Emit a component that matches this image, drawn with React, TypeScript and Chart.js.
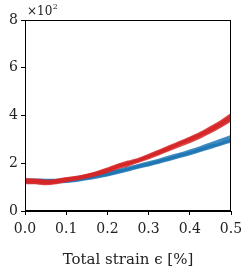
import React, { useEffect, useRef } from "react";
import { Chart, registerables } from "chart.js";

Chart.register(...registerables);

const strain = [0, 0.025, 0.05, 0.075, 0.1, 0.125, 0.15, 0.175, 0.2, 0.225, 0.25, 0.275, 0.3, 0.325, 0.35, 0.375, 0.4, 0.425, 0.45, 0.475, 0.5];

const red1 = [133, 131, 126, 129, 137, 142, 151, 162, 177, 193, 206, 217, 234, 252, 270, 288, 306, 326, 350, 374, 404];
const red2 = [118, 117, 113, 117, 126, 133, 141, 152, 165, 180, 192, 207, 222, 239, 256, 273, 290, 309, 331, 354, 380];
const red3 = [127, 126, 120, 123, 131, 139, 146, 159, 172, 185, 199, 213, 227, 247, 264, 281, 300, 319, 341, 366, 393];
const red4 = [123, 121, 117, 121, 129, 136, 148, 156, 168, 187, 201, 210, 229, 243, 260, 282, 296, 316, 337, 360, 386];
const red5 = [129, 128, 123, 127, 134, 140, 149, 158, 173, 190, 197, 214, 231, 248, 265, 283, 303, 321, 344, 368, 398];

const blue1 = [130, 131, 130, 130, 131, 136, 143, 151, 160, 171, 181, 192, 203, 214, 227, 239, 252, 266, 282, 297, 313];
const blue2 = [120, 121, 122, 122, 123, 127, 134, 141, 150, 160, 171, 182, 192, 203, 215, 227, 239, 252, 265, 279, 292];
const blue3 = [126, 127, 128, 126, 128, 133, 138, 147, 156, 167, 175, 189, 197, 210, 220, 234, 244, 259, 273, 287, 303];
const blue4 = [123, 124, 124, 125, 125, 129, 137, 145, 153, 163, 176, 185, 196, 206, 219, 230, 243, 256, 270, 283, 297];

const redSeries = [red1, red2, red3, red4, red5];
const blueSeries = [blue1, blue2, blue3, blue4];

const xTicks = [0, 0.1, 0.2, 0.3, 0.4, 0.5];
const yTicks = [0, 200, 400, 600, 800];
const xTitle = "Total strain \u03f5 [%]";

const RED = "rgba(214,39,40,0.85)";
const BLUE = "rgba(31,119,180,0.85)";
const FONT = "'DejaVu Serif', serif";

const framePlugin = {
  id: "frame",
  afterDraw(chart: any) {
    const { ctx, chartArea } = chart;
    ctx.save();
    ctx.strokeStyle = "#000";
    ctx.lineWidth = 1;
    ctx.strokeRect(chartArea.left + 0.5, chartArea.top + 0.5, chartArea.right - chartArea.left - 1, chartArea.bottom - chartArea.top - 1);
    ctx.fillStyle = "#222";
    ctx.textBaseline = "alphabetic";
    ctx.font = `12px ${FONT}`;
    const x0 = chartArea.left + 2;
    const y0 = chartArea.top - 5;
    const s = "\u00d710";
    ctx.fillText(s, x0, y0);
    const w = ctx.measureText(s).width;
    ctx.font = `8px ${FONT}`;
    ctx.fillText("2", x0 + w + 0.5, y0 - 6);
    ctx.restore();
  },
};

export default function App() {
  const ref = useRef<HTMLCanvasElement | null>(null);
  useEffect(() => {
    if (!ref.current) return;
    const datasets: any[] = [];
    redSeries.forEach((s) =>
      datasets.push({
        data: strain.map((x, i) => ({ x, y: s[i] })),
        borderColor: RED,
        borderWidth: 2.6,
        pointRadius: 0,
        tension: 0.1,
      })
    );
    blueSeries.forEach((s) =>
      datasets.push({
        data: strain.map((x, i) => ({ x, y: s[i] })),
        borderColor: BLUE,
        borderWidth: 2.6,
        pointRadius: 0,
        tension: 0.1,
      })
    );
    const chart = new Chart(ref.current, {
      type: "line",
      data: { datasets },
      plugins: [framePlugin],
      options: {
        animation: false,
        responsive: false,
        devicePixelRatio: 1,
        layout: { padding: { top: 20, right: 11, left: 0, bottom: 0 } },
        plugins: { legend: { display: false }, tooltip: { enabled: false } },
        scales: {
          x: {
            type: "linear",
            min: 0,
            max: 0.5,
            afterBuildTicks: (scale: any) => {
              scale.ticks = xTicks.map((v) => ({ value: v }));
            },
            afterFit: (scale: any) => {
              scale.height = 62;
              scale.paddingLeft = 0;
              scale.paddingRight = 0;
            },
            ticks: {
              color: "#222",
              font: { family: FONT, size: 14 },
              padding: 6,
              maxRotation: 0,
              autoSkip: false,
              callback: (v: any) => Number(v).toFixed(1),
            },
            grid: { drawOnChartArea: false, drawTicks: true, tickLength: 4, color: "#000" },
            border: { display: true, color: "#000", width: 1 },
            title: { display: true, text: xTitle, color: "#222", font: { family: FONT, size: 15 }, padding: { top: 8, bottom: 4 } },
          },
          y: {
            type: "linear",
            min: 0,
            max: 800,
            afterBuildTicks: (scale: any) => {
              scale.ticks = yTicks.map((v) => ({ value: v }));
            },
            afterFit: (scale: any) => {
              scale.width = 25;
              scale.paddingTop = 0;
              scale.paddingBottom = 0;
            },
            ticks: {
              color: "#222",
              font: { family: FONT, size: 14 },
              padding: 3,
              callback: (v: any) => String(Number(v) / 100),
            },
            grid: { drawOnChartArea: false, drawTicks: true, tickLength: 4, color: "#000" },
            border: { display: true, color: "#000", width: 1 },
          },
        },
      },
    });
    return () => chart.destroy();
  }, []);
  return (
    <div style={{ position: "absolute", left: 0, top: 0, width: 242, height: 273, background: "#fff" }}>
      <canvas ref={ref} width={242} height={273} style={{ width: 242, height: 273, display: "block" }} />
    </div>
  );
}
